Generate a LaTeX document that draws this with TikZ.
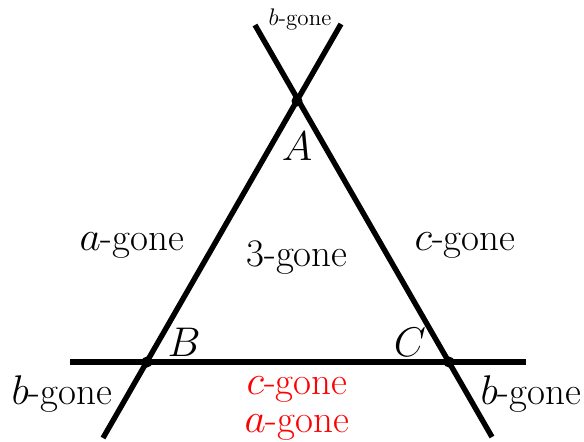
\documentclass[tikz,border=0pt]{standalone}
\begin{document}
\begin{tikzpicture}[x=0.5pt,y=-0.5pt,
  ln/.style={line width=2.7pt},
  lbl/.style={inner sep=0pt,font=\fontsize{19.5}{22}\selectfont},
  sml/.style={inner sep=0pt,font=\fontsize{11.5}{13}\selectfont},
  dot/.style={circle,fill=black,inner sep=0pt,minimum size=5.5pt}]
\useasboundingbox (0,0) rectangle (584,441);
\node[dot] (A) at (297,101) {};
\node[dot] (B) at (147,362) {};
\node[dot] (C) at (449,362) {};
\coordinate (ab1) at (341,24);
\coordinate (ab2) at (103,438);
\coordinate (ac1) at (255,25);
\coordinate (ac2) at (492,437);
\coordinate (h1) at (70,362);
\coordinate (h2) at (526,362);
\draw[ln] (ab1) -- (ab2);
\draw[ln] (ac1) -- (ac2);
\draw[ln] (h1) -- (h2);
\node[sml] (tb) at (300,20) {$b$-gone};
\node[lbl] (lA) at (297,146) {$A$};
\node[lbl] (lB) at (184,342) {$B$};
\node[lbl] (lC) at (410,342) {$C$};
\node[lbl] (ag) at (132,246) {$a$-gone};
\node[lbl] (tg) at (297,258) {3-gone};
\node[lbl] (cg) at (465,246) {$c$-gone};
\node[lbl] (bl) at (62,394) {$b$-gone};
\node[lbl] (br) at (531,394) {$b$-gone};
\node[lbl,text=red] (rc) at (297,390) {$c$-gone};
\node[lbl,text=red] (ra) at (297,428) {$a$-gone};
\end{tikzpicture}
\end{document}
